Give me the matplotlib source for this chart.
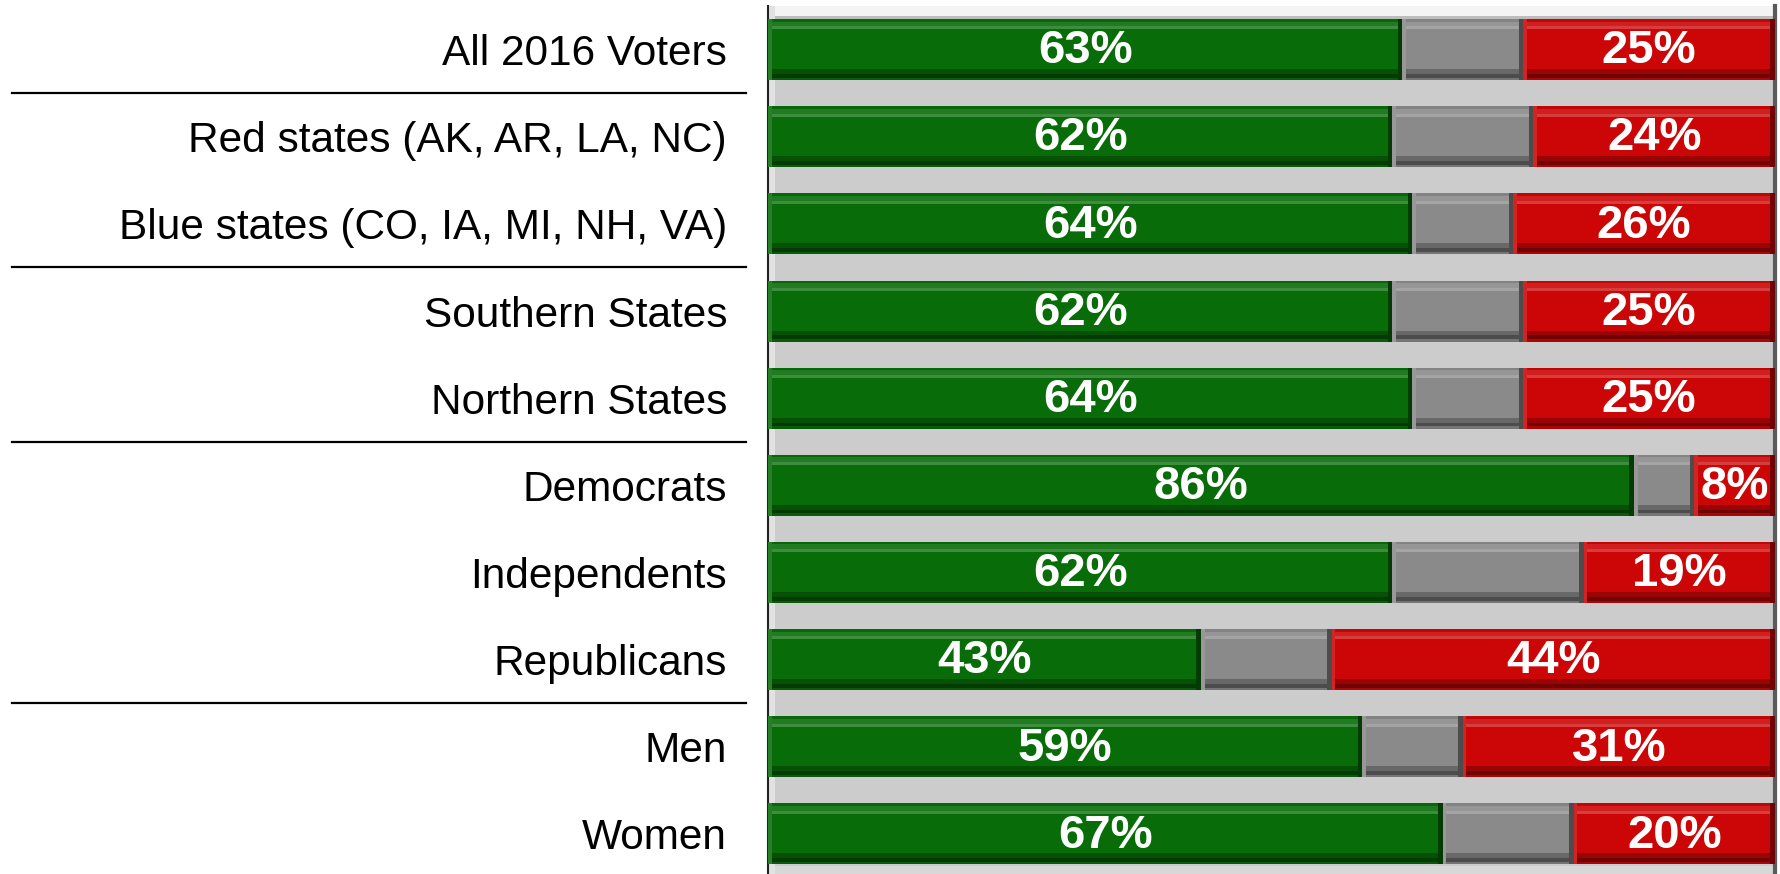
import matplotlib
matplotlib.use('Agg')
import matplotlib.pyplot as plt
import numpy as np
from matplotlib.transforms import blended_transform_factory
from matplotlib.colors import to_rgb

categories = ["All 2016 Voters", "Red states (AK, AR, LA, NC)", "Blue states (CO, IA, MI, NH, VA)",
              "Southern States", "Northern States", "Democrats", "Independents", "Republicans",
              "Men", "Women"]
support = [63, 62, 64, 62, 64, 86, 62, 43, 59, 67]
unsure = [12, 14, 10, 13, 11, 6, 19, 13, 10, 13]
oppose = [25, 24, 26, 25, 25, 8, 19, 44, 31, 20]
separator_after = [0, 2, 4, 7]

plt.rcParams['font.family'] = ['Liberation Sans', 'DejaVu Sans']

W, H = 1781, 874
fig = plt.figure(figsize=(W / 100, H / 100), dpi=100)
ax = fig.add_axes([768 / W, 0, 1007 / W, 1 - 6 / H])
ax.set_facecolor('#cccccc')

n = len(categories)
y = np.arange(n)
h = 0.70


def shade(c, f):
    r = np.array(to_rgb(c))
    if f >= 0:
        return tuple(r + (1 - r) * f)
    return tuple(r * (1 + f))


series = [
    (support, '#086c08', True),
    (unsure, '#8a8a8a', False),
    (oppose, '#cc0606', True),
]

# bevel strips: (start fraction from top, height fraction, shade factor)
bevel = [(0.00, 0.04, -0.05), (0.04, 0.08, 0.10), (0.12, 0.05, 0.22),
         (0.82, 0.08, -0.25), (0.90, 0.06, -0.45), (0.96, 0.04, -0.15)]

# 3D-ish top band, bottom floor and left wall
ax.axhspan(-0.5, -h / 2, color='#f4f4f4', zorder=0.5, lw=0)
ax.axhspan(-h / 2 - 0.04, -h / 2, color='#bdbdbd', zorder=0.55, lw=0)
ax.axhspan(n - 1 + h / 2 + 0.02, n, color='#d8d8d8', zorder=0.5, lw=0)
ax.axvspan(0, 0.7, color='#e2e2e2', zorder=0.6, lw=0)

left = np.zeros(n)
for vals, c, labelled in series:
    vals = np.array(vals, dtype=float)
    ax.barh(y, vals, left=left, height=h, color=c, edgecolor='none', zorder=2)
    for s0, sh, f in bevel:
        ax.barh(y - h / 2 + h * (s0 + sh / 2), vals, left=left, height=h * sh,
                color=shade(c, f), edgecolor='none', zorder=3)
    ax.barh(y, 0.35, left=left, height=h, color=shade(c, 0.12), edgecolor='none', zorder=3)
    ax.barh(y, 0.45, left=left + vals - 0.45, height=h, color=shade(c, -0.45),
            edgecolor='none', zorder=3)
    if labelled:
        for yi, l, v in zip(y, left, vals):
            ax.text(l + v / 2, yi + 0.02, f"{int(v)}%", ha='center', va='center',
                    color='white', fontsize=34, fontweight='bold', zorder=4)
    left = left + vals

ax.set_xlim(0, 100)
ax.set_ylim(n - 1 + 0.46, -0.5)
ax.set_xticks([])
ax.set_yticks(y, categories, fontsize=30.5)
ax.tick_params(axis='y', length=0, pad=29.5)
for s in ['top', 'bottom']:
    ax.spines[s].set_visible(False)
ax.spines['left'].set_color('#222222')
ax.spines['left'].set_linewidth(1.5)
ax.spines['right'].set_color('#5a5a5a')
ax.spines['right'].set_linewidth(3)

trans = blended_transform_factory(fig.transFigure, ax.transData)
for i in separator_after:
    ax.plot([12 / W, 746 / W], [i + 0.5, i + 0.5], transform=trans, color='black',
            lw=1.6, clip_on=False)

fig.savefig('out.png', dpi=100)
